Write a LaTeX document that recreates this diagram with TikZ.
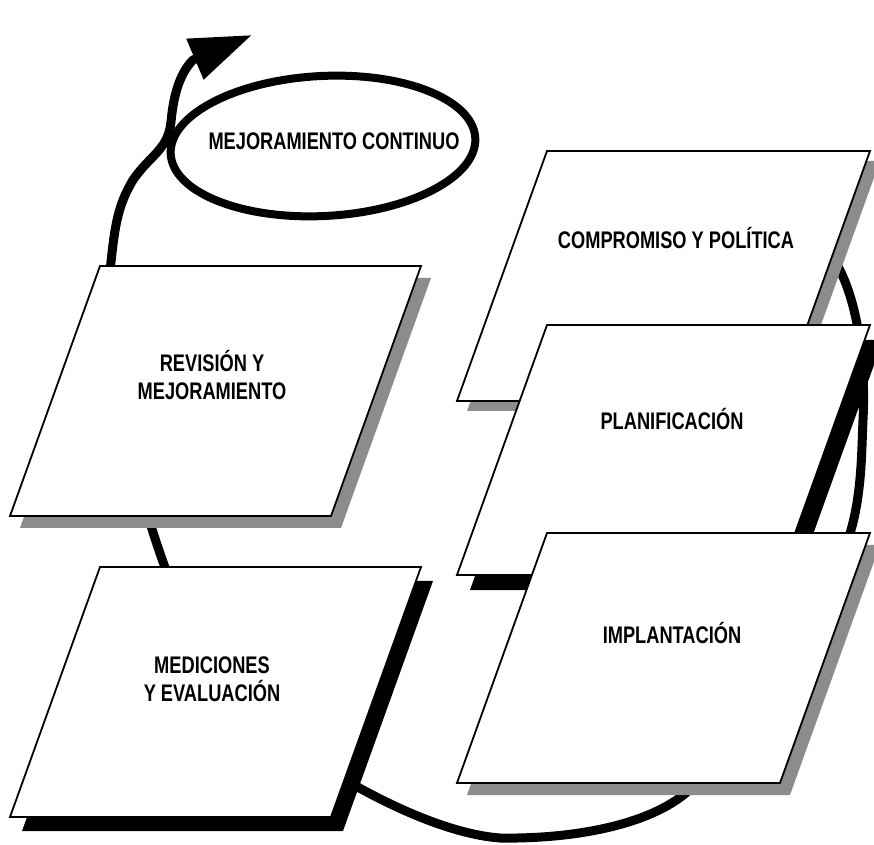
\documentclass[tikz,border=0pt]{standalone}
\usepackage{fontspec}
\newfontfamily\lblfont{Liberation Sans}[FakeStretch=0.76]
\usetikzlibrary{arrows.meta,shapes.geometric,backgrounds}
\tikzset{
  boxshape/.style={draw=black, line width=0.9pt, fill=white, line join=miter},
  greyshadow/.style={fill=black!45},
  darkshadow/.style={fill=black},
  lbl/.style={font=\lblfont\bfseries\fontsize{12}{14}\selectfont, align=center, inner sep=0pt, anchor=base},
  cyc/.style={line width=4.5pt, line cap=butt},
  arrowline/.style={line width=4.5pt, line join=round, -{Triangle[length=31pt, width=21pt]}},
  loopring/.style={draw, ellipse, line width=4pt, minimum width=152.5pt, minimum height=70pt, inner sep=0pt, rotate=3}
}
\newcommand\pgramshape[5]{%
  \path[#1, shift={#2}] (#3,#4) -- ++(#5,0) -- ++(-90,250) -- ++(-#5,0) -- cycle;}
\begin{document}
\begin{tikzpicture}[x=0.5pt, y=-0.5pt]
\useasboundingbox (0,0) rectangle (874,845);

% right column
\pgramshape{greyshadow}{(10,10)}{547}{151}{323}
\pgramshape{boxshape}{(0,0)}{547}{151}{323}
\node[lbl] (comp) at (676,249) {COMPROMISO Y POLÍTICA};

\pgramshape{darkshadow}{(13,15)}{547}{325}{323}
\pgramshape{boxshape}{(0,0)}{547}{325}{323}
\node[lbl] (plan) at (672,430) {PLANIFICACIÓN};

\pgramshape{greyshadow}{(10,12)}{547}{533}{323}
\pgramshape{boxshape}{(0,0)}{547}{533}{323}
\node[lbl] (impl) at (672,643) {IMPLANTACIÓN};

% left column
\pgramshape{greyshadow}{(10,12)}{100}{266}{321}
\pgramshape{boxshape}{(0,0)}{100}{266}{321}
\node[lbl] (rev) at (212,400) {REVISIÓN Y\\MEJORAMIENTO};

\pgramshape{darkshadow}{(12,14)}{100}{567}{321}
\pgramshape{boxshape}{(0,0)}{100}{567}{321}
\node[lbl] (med) at (212,701) {MEDICIONES\\Y EVALUACIÓN};

% continuous improvement ring
\node[loopring] (mc) at (323,146) {};
\node[lbl] (mctext) at (334,150) {MEJORAMIENTO CONTINUO};
\coordinate (mctip) at (252,35);

\begin{scope}[on background layer]
  \fill[white] (0,0) rectangle (874,845);
  \draw[cyc] (comp) .. controls (840,232) and (868,320) .. (863,420)
                    .. controls (860,485) and (865,610) .. (impl);
  \draw[cyc] (impl) .. controls (790,800) and (620,840) .. (500,838)
                    .. controls (420,832) and (300,760) .. (med);
  \draw[cyc] (med) .. controls (130,500) and (120,400) .. (rev);
  \draw[arrowline] (rev) .. controls (120,330) and (106,300) .. (111,262)
        .. controls (115,225) and (118,205) .. (133,180)
        .. controls (150,155) and (168,150) .. (171,122)
        .. controls (173,100) and (178,75) .. (193,60) -- (mctip);
\end{scope}
\end{tikzpicture}
\end{document}
